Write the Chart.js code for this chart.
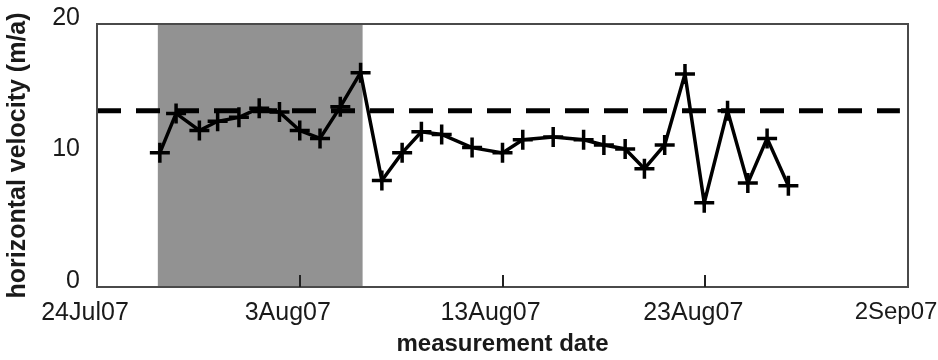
<!DOCTYPE html>
<html>
<head>
<meta charset="utf-8">
<script src="https://cdn.jsdelivr.net/npm/chart.js@4"></script>
<style>
  html, body { margin: 0; padding: 0; background: #fff; }
  #wrap { width: 938px; height: 360px; }
</style>
</head>
<body>
<div id="wrap"><canvas id="chart"></canvas></div>
<script>
// days after 24Jul07
const measureDays = [3.1, 3.9, 5.05, 5.95, 7.0, 8.0, 9.0, 10.0, 11.0, 12.0, 13.0, 14.05, 15.05, 16.0, 17.0,
  18.5, 20.0, 21.0, 22.5, 24.0, 25.0, 26.05, 27.0, 28.0, 29.0, 29.95, 31.1, 32.1, 33.05, 34.1];
const velocity = [10.2, 13.2, 11.9, 12.6, 12.9, 13.6, 13.3, 11.9, 11.3, 13.7, 16.3, 8.1, 10.2, 11.8, 11.6,
  10.6, 10.2, 11.2, 11.4, 11.2, 10.8, 10.5, 9.0, 10.8, 16.2, 6.4, 13.4, 7.9, 11.3, 7.7];
const meanVelocity = 13.4;
const shadedDays = [3.0, 13.1];
const dateTicks = ['24Jul07', '3Aug07', '13Aug07', '23Aug07', '2Sep07'];
const xRange = [0, 40];
const yRange = [0, 20];

const FONT = "'Liberation Sans', Arial, sans-serif";

const frame = {
  id: 'frame',
  beforeDatasetsDraw(chart) {
    const {ctx, chartArea: a, scales: {x}} = chart;
    ctx.save();
    ctx.fillStyle = '#929292';
    const x0 = x.getPixelForValue(shadedDays[0]);
    const x1 = x.getPixelForValue(shadedDays[1]);
    ctx.fillRect(x0, a.top, x1 - x0, a.bottom - a.top);
    ctx.restore();
  },
  afterDatasetsDraw(chart) {
    const {ctx, chartArea: a, scales: {x}} = chart;
    ctx.save();
    ctx.strokeStyle = '#4a4a4a';
    ctx.lineWidth = 2;
    ctx.strokeRect(a.left, a.top, a.right - a.left, a.bottom - a.top);
    ctx.strokeStyle = '#222';
    ctx.beginPath();
    for (let d = xRange[0] + 10; d < xRange[1]; d += 10) {
      const px = Math.round(x.getPixelForValue(d));
      ctx.moveTo(px, a.bottom);
      ctx.lineTo(px, a.bottom - 12);
    }
    ctx.stroke();
    ctx.restore();
  }
};

new Chart(document.getElementById('chart'), {
  type: 'line',
  data: {
    datasets: [
      {
        data: measureDays.map((d, i) => ({x: d, y: velocity[i]})),
        borderColor: '#000',
        borderWidth: 3.5,
        pointStyle: 'cross',
        pointRadius: 10,
        pointBorderWidth: 3.5,
        pointBorderColor: '#000',
        tension: 0
      },
      {
        data: [{x: xRange[0], y: meanVelocity}, {x: 39.6, y: meanVelocity}],
        borderColor: '#000',
        borderWidth: 5,
        borderDash: [24, 15],
        pointRadius: 0
      }
    ]
  },
  options: {
    responsive: true,
    maintainAspectRatio: false,
    animation: false,
    layout: { padding: { top: 19, right: 30, left: 0, bottom: 0 } },
    plugins: { legend: { display: false }, tooltip: { enabled: false } },
    scales: {
      x: {
        type: 'linear',
        min: xRange[0],
        max: xRange[1],
        afterFit(scale) {
          scale.height = 73;
          scale.paddingLeft = 0;
          scale.paddingRight = 0;
        },
        grid: { display: false },
        border: { display: false },
        ticks: {
          stepSize: 10,
          padding: 3,
          labelOffset: -12,
          maxRotation: 0,
          color: '#1a1a1a',
          font: ctx => ({ family: FONT, size: ctx.tick && ctx.tick.value === xRange[1] ? 24 : 25 }),
          callback: v => dateTicks[v / 10]
        },
        title: {
          display: true,
          text: 'measurement date',
          color: '#1a1a1a',
          font: { family: FONT, size: 24, weight: 'bold' },
          padding: { top: 0, bottom: 1 }
        }
      },
      y: {
        min: yRange[0],
        max: yRange[1],
        afterFit(scale) { scale.width = 97; },
        grid: { display: false },
        border: { display: false },
        ticks: {
          stepSize: 10,
          padding: 9,
          labelOffset: -6,
          color: '#1a1a1a',
          font: { family: FONT, size: 25 }
        },
        title: {
          display: true,
          text: 'horizontal velocity (m/a)',
          color: '#1a1a1a',
          font: { family: FONT, size: 25, weight: 'bold' },
          padding: { top: 3, bottom: 0 }
        }
      }
    }
  },
  plugins: [frame]
});
</script>
</body>
</html>
